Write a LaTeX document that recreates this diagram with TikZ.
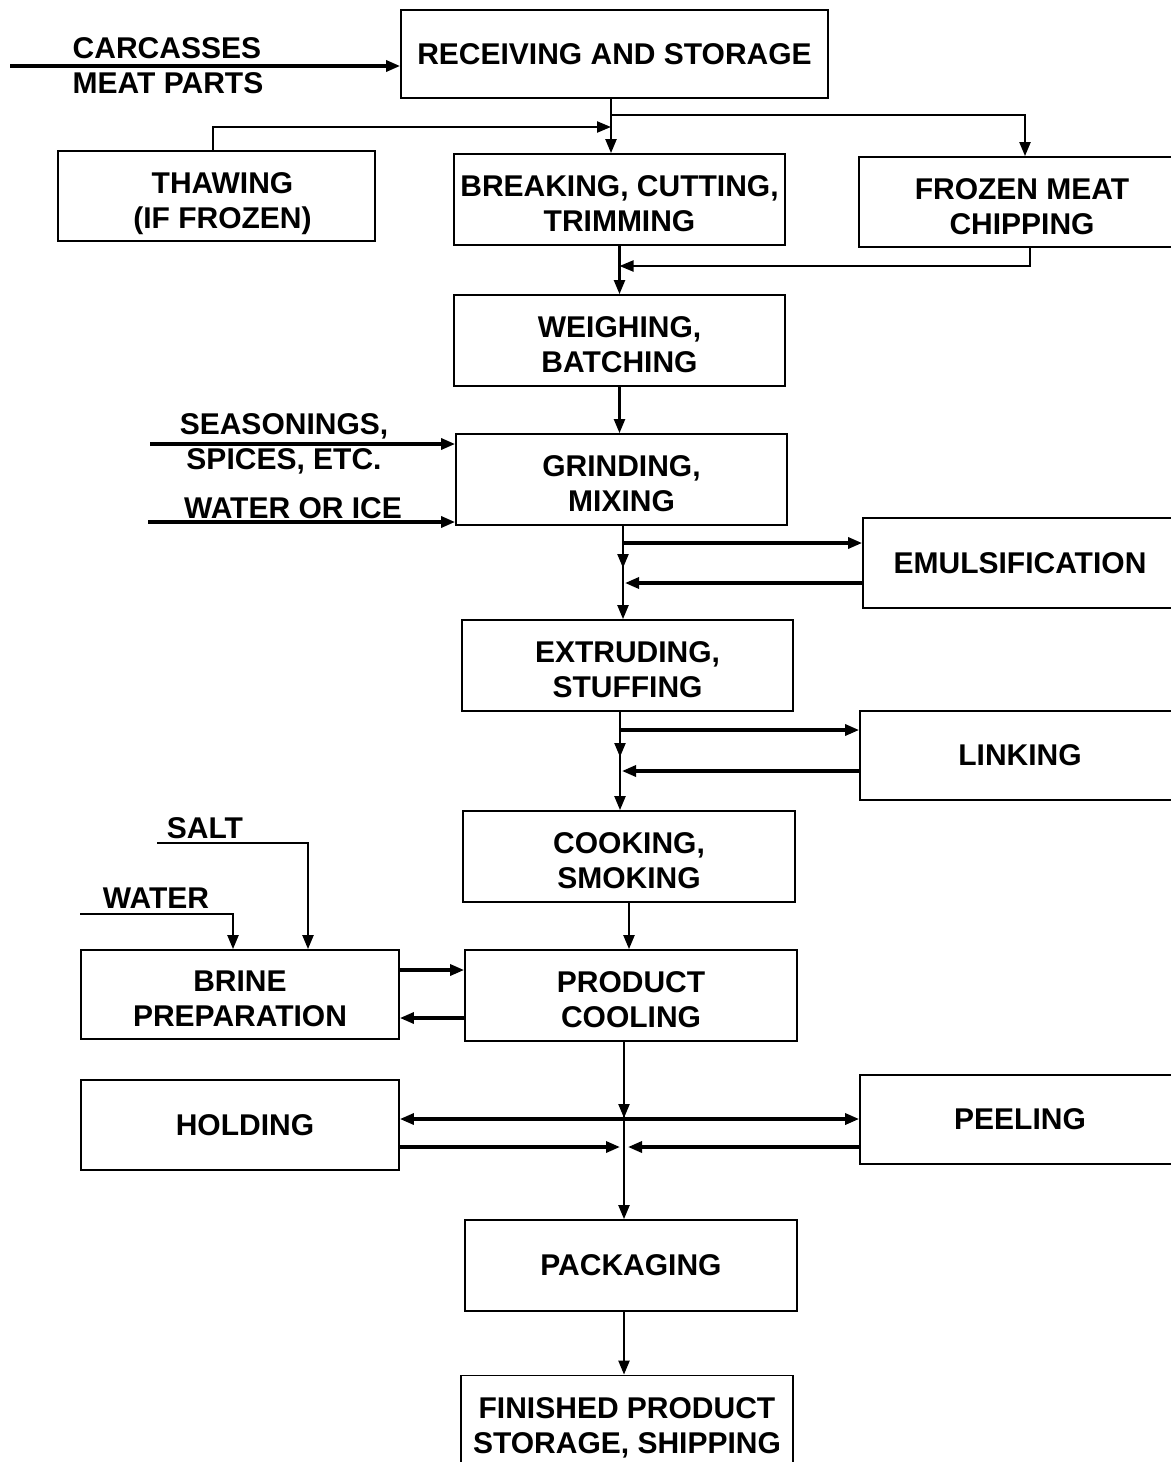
\documentclass[tikz,border=0pt]{standalone}
\usepackage{fontspec}
\setsansfont{Liberation Sans}
\usetikzlibrary{arrows.meta}

\begin{document}
\begin{tikzpicture}[x=0.5pt,y=-0.5pt,>={Triangle[length=7pt,width=5.5pt]},
    box node/.style={rectangle,draw,line width=0.9pt,inner sep=0pt,minimum height=45.5pt,align=center,font=\sffamily\bfseries\fontsize{15}{17.5}\selectfont},
    two line/.style={text height=32pt,text depth=0pt},
    label node/.style={inner sep=0pt,align=center,font=\sffamily\bfseries\fontsize{15}{17.5}\selectfont},
    flow/.style={line width=1.1pt},
    feed/.style={line width=1.6pt}]
    \path[use as bounding box,clip] (0,0) rectangle (1171,1462);

    \node[box node,minimum width=213.5pt,minimum height=44pt] (1) at (614.5,54) {RECEIVING AND STORAGE};
    \node[box node,two line,minimum width=158.5pt,minimum height=45pt] (2) at (216.5,196) {\hspace*{6pt}THAWING\\\hspace*{6pt}(IF FROZEN)};
    \node[box node,two line,minimum width=165.5pt] (3) at (619.5,199.5) {BREAKING, CUTTING,\\TRIMMING};
    \node[box node,two line,minimum width=163pt,minimum height=45pt] (4) at (1022,202) {FROZEN MEAT\\CHIPPING};
    \node[box node,two line,minimum width=165.5pt] (5) at (619.5,340.5) {WEIGHING,\\BATCHING};
    \node[box node,two line,minimum width=165.5pt] (6) at (621.5,479.5) {GRINDING,\\MIXING};
    \node[box node,minimum width=157pt,minimum height=45pt] (7) at (1020,563) {EMULSIFICATION};
    \node[box node,two line,minimum width=165.5pt] (8) at (627.5,665.5) {EXTRUDING,\\STUFFING};
    \node[box node,minimum width=160pt,minimum height=44.5pt] (9) at (1020,755.5) {LINKING};
    \node[box node,two line,minimum width=166pt] (10) at (629,856.5) {COOKING,\\SMOKING};
    \node[box node,two line,minimum width=166pt] (11) at (631,995.5) {PRODUCT\\COOLING};
    \node[box node,two line,minimum width=159pt,minimum height=44.5pt] (12) at (240,994.5) {BRINE\\PREPARATION};
    \node[box node,minimum width=159pt,minimum height=45pt] (13) at (240,1125) {\hspace*{5pt}HOLDING};
    \node[box node,minimum width=160pt,minimum height=44.5pt] (14) at (1020,1119.5) {PEELING};
    \node[box node,minimum width=166pt] (15) at (631,1265.5) {PACKAGING};
    \node[box node,two line,minimum width=166pt] (16) at (627,1421) {FINISHED PRODUCT\\STORAGE, SHIPPING};

    \node[label node,align=left] (17) at (168,66) {CARCASSES\\MEAT PARTS};
    \node[label node] (18) at (284,444) {SEASONINGS,\\SPICES, ETC.};
    \node[label node] (19) at (293,508) {WATER OR ICE};
    \node[label node] (20) at (205,828) {SALT};
    \node[label node] (21) at (156,898) {WATER};

    % free ends and corners
    \coordinate (c0) at (10,66);
    \coordinate (b1) at (611,127);
    \coordinate (b2) at (611,115);
    \coordinate (t1) at (213,127);
    \coordinate (f1) at (1025,115);
    \coordinate (f2) at (1030,266);
    \coordinate (s0) at (150,444);
    \coordinate (w0) at (148,522);
    \coordinate (e0) at (623,568);
    \coordinate (e1) at (623,543);
    \coordinate (e2) at (623,583);
    \coordinate (l0) at (620,757);
    \coordinate (l1) at (620,730);
    \coordinate (l2) at (620,771);
    \coordinate (s1) at (157,843);
    \coordinate (s2) at (308,843);
    \coordinate (w1) at (80,914);
    \coordinate (w2) at (233,914);
    \coordinate (k1) at (0,970);
    \coordinate (k2) at (0,1018);
    \coordinate (p0) at (624,1118);
    \coordinate (h1) at (624,1119);
    \coordinate (h2) at (624,1147);

    \draw[feed,->] (c0) -- (c0 -| 1.west);
    \draw[flow,->] (1.south -| b1) -- (3.north -| b1);
    \draw[flow,->] (2.north -| t1) -- (t1) -- (b1);
    \draw[flow,->] (b2) -| (4.north -| f1);
    \draw[flow,->] (3.south) -- (5.north -| 3.south);
    \draw[flow,->] (4.south -| f2) -- (f2) -- (3.south |- f2);
    \draw[flow,->] (5.south) -- (6.north -| 5.south);
    \draw[feed,->] (s0) -- (s0 -| 6.west);
    \draw[feed,->] (w0) -- (w0 -| 6.west);

    % emulsification loop
    \draw[flow,->] (6.south -| e0) -- (e0);
    \draw[flow,->] (6.south -| e0) -- (8.north -| e0);
    \draw[feed,->] (e1) -- (7.west |- e1);
    \draw[feed,->,shorten >=1pt] (7.west |- e2) -- (e2);

    % linking loop
    \draw[flow,->] (8.south -| l0) -- (l0);
    \draw[flow,->] (8.south -| l0) -- (10.north -| l0);
    \draw[feed,->] (l1) -- (9.west |- l1);
    \draw[feed,->,shorten >=1pt] (9.west |- l2) -- (l2);

    \draw[flow,->] (10.south) -- (11.north -| 10.south);

    % brine
    \draw[flow,->] (s1) -- (s2) -- (12.north -| s2);
    \draw[flow,->] (w1) -- (w2) -- (12.north -| w2);
    \draw[feed,->] (12.east |- k1) -- (11.west |- k1);
    \draw[feed,->] (11.west |- k2) -- (12.east |- k2);

    % holding and peeling
    \draw[flow,->] (11.south -| p0) -- (p0);
    \draw[flow,->] (11.south -| p0) -- (15.north -| p0);
    \draw[feed,<->] (13.east |- h1) -- (14.west |- h1);
    \draw[feed,->,shorten >=2pt] (13.east |- h2) -- (h2);
    \draw[feed,->,shorten >=2pt] (14.west |- h2) -- (h2);
    \draw[flow,->] (15.south -| p0) -- (16.north -| p0);
\end{tikzpicture}
\end{document}
